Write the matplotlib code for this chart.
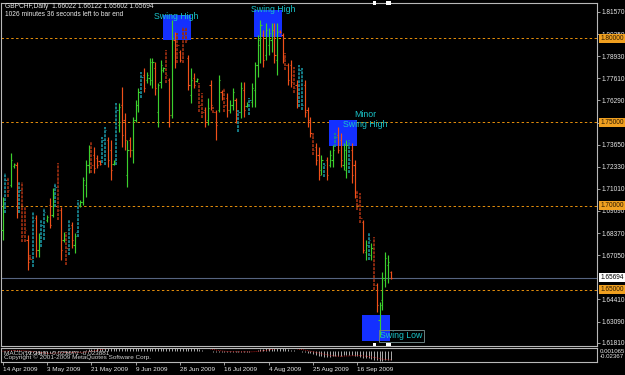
import numpy as np
import pandas as pd
import matplotlib
matplotlib.use("Agg")
import matplotlib.pyplot as plt
from matplotlib.patches import Rectangle

plt.rcParams['font.family'] = ['Liberation Sans', 'DejaVu Sans']

# GBPCHF daily bars
opens = [1.6856, 1.7005, 1.7154, 1.7124, 1.7237, 1.7243, 1.6975, 1.7094, 1.6945, 1.6796,
         1.6700, 1.6688, 1.6927, 1.6736, 1.6796, 1.6856, 1.6915, 1.7005, 1.6945, 1.7035,
         1.7154, 1.6975, 1.6796, 1.6826, 1.6748, 1.6885, 1.6766, 1.6844, 1.7005, 1.7023,
         1.7124, 1.7243, 1.7333, 1.7303, 1.7285, 1.7267, 1.7273, 1.7393, 1.7393, 1.7333,
         1.7249, 1.7273, 1.7482, 1.7602, 1.7512, 1.7184, 1.7393, 1.7333, 1.7512, 1.7602,
         1.7679, 1.7781, 1.7751, 1.7763, 1.7751, 1.7823, 1.7560, 1.7739, 1.7811, 1.7870,
         1.7751, 1.7542, 1.7990, 1.7900, 1.7918, 1.7900, 1.8050, 1.7882, 1.7662, 1.7763,
         1.7745, 1.7721, 1.7632, 1.7572, 1.7512, 1.7721, 1.7584, 1.7560, 1.7572, 1.7679,
         1.7662, 1.7644, 1.7572, 1.7602, 1.7632, 1.7524, 1.7560, 1.7692, 1.7596, 1.7602,
         1.7620, 1.7692, 1.7841, 1.7960, 1.8020, 1.7900, 1.7960, 1.7990, 1.8050, 1.7870,
         1.8044, 1.8020, 1.7882, 1.7841, 1.7841, 1.7781, 1.7721, 1.7632, 1.7799, 1.7721,
         1.7572, 1.7512, 1.7423, 1.7351, 1.7303, 1.7214, 1.7225, 1.7273, 1.7243, 1.7273,
         1.7363, 1.7423, 1.7393, 1.7243, 1.7214, 1.7333, 1.7333, 1.7243, 1.7082, 1.7035,
         1.6903, 1.6724, 1.6766, 1.6706, 1.6766, 1.6527, 1.6318, 1.6438, 1.6557, 1.6646,
         1.66022]
highs = [1.7053, 1.7196, 1.7172, 1.7315, 1.7255, 1.7261, 1.7142, 1.7142, 1.6993, 1.6826,
         1.6706, 1.6963, 1.6945, 1.6838, 1.6915, 1.6987, 1.6945, 1.7047, 1.7106, 1.7136,
         1.7255, 1.6993, 1.6844, 1.6844, 1.6915, 1.6903, 1.6838, 1.7035, 1.7035, 1.7172,
         1.7273, 1.7363, 1.7381, 1.7351, 1.7303, 1.7273, 1.7411, 1.7470, 1.7411, 1.7393,
         1.7273, 1.7614, 1.7614, 1.7709, 1.7554, 1.7393, 1.7411, 1.7530, 1.7632, 1.7704,
         1.7799, 1.7823, 1.7799, 1.7882, 1.7882, 1.7858, 1.7733, 1.7870, 1.7829, 1.7930,
         1.7763, 1.8109, 1.8038, 1.8032, 1.7930, 1.8068, 1.8068, 1.7900, 1.7823, 1.7793,
         1.7763, 1.7733, 1.7673, 1.7590, 1.7644, 1.7751, 1.7590, 1.7572, 1.7781, 1.7692,
         1.7704, 1.7673, 1.7632, 1.7704, 1.7644, 1.7572, 1.7739, 1.7739, 1.7620, 1.7644,
         1.7733, 1.7858, 1.8020, 1.8109, 1.8050, 1.8091, 1.8061, 1.8091, 1.8091, 1.8091,
         1.8050, 1.8032, 1.7912, 1.7852, 1.7870, 1.7829, 1.7751, 1.7841, 1.7823, 1.7751,
         1.7590, 1.7530, 1.7435, 1.7375, 1.7351, 1.7303, 1.7255, 1.7291, 1.7333, 1.7363,
         1.7435, 1.7470, 1.7435, 1.7375, 1.7393, 1.7393, 1.7375, 1.7273, 1.7094, 1.7076,
         1.6915, 1.6796, 1.6838, 1.6778, 1.6814, 1.6539, 1.6426, 1.6605, 1.6724, 1.6706,
         1.66122]
lows = [1.6796, 1.6957, 1.7053, 1.7112, 1.7225, 1.6927, 1.6957, 1.6784, 1.6784, 1.6617,
        1.6676, 1.6635, 1.6694, 1.6694, 1.6754, 1.6796, 1.6903, 1.6868, 1.6933, 1.6993,
        1.6915, 1.6676, 1.6784, 1.6646, 1.6706, 1.6748, 1.6718, 1.6814, 1.6993, 1.7005,
        1.7053, 1.7196, 1.7196, 1.7196, 1.7225, 1.7243, 1.7255, 1.7243, 1.7232, 1.7154,
        1.7243, 1.7243, 1.7441, 1.7351, 1.7333, 1.7112, 1.7291, 1.7255, 1.7500, 1.7560,
        1.7644, 1.7679, 1.7733, 1.7721, 1.7704, 1.7662, 1.7470, 1.7704, 1.7799, 1.7733,
        1.7470, 1.7524, 1.7823, 1.7852, 1.7858, 1.7852, 1.7972, 1.7692, 1.7614, 1.7704,
        1.7739, 1.7560, 1.7524, 1.7470, 1.7482, 1.7572, 1.7554, 1.7393, 1.7560, 1.7632,
        1.7560, 1.7530, 1.7554, 1.7572, 1.7494, 1.7441, 1.7524, 1.7530, 1.7590, 1.7542,
        1.7590, 1.7590, 1.7769, 1.7852, 1.7829, 1.7870, 1.7900, 1.7918, 1.7852, 1.7781,
        1.8032, 1.7852, 1.7811, 1.7721, 1.7709, 1.7673, 1.7584, 1.7590, 1.7572, 1.7530,
        1.7470, 1.7411, 1.7303, 1.7243, 1.7154, 1.7184, 1.7172, 1.7154, 1.7232, 1.7232,
        1.7351, 1.7315, 1.7232, 1.7214, 1.7166, 1.7196, 1.7136, 1.7047, 1.6975, 1.6897,
        1.6718, 1.6676, 1.6676, 1.6676, 1.6497, 1.6366, 1.6217, 1.6378, 1.6515, 1.6539,
        1.65602]
closes = [1.7035, 1.7154, 1.7094, 1.7273, 1.7249, 1.6975, 1.7094, 1.6826, 1.6856, 1.6665,
          1.6682, 1.6915, 1.6736, 1.6796, 1.6885, 1.6963, 1.6933, 1.6885, 1.7064, 1.7112,
          1.6975, 1.6736, 1.6826, 1.6748, 1.6868, 1.6796, 1.6820, 1.7005, 1.7023, 1.7154,
          1.7243, 1.7333, 1.7243, 1.7225, 1.7243, 1.7249, 1.7393, 1.7452, 1.7273, 1.7214,
          1.7267, 1.7572, 1.7590, 1.7423, 1.7393, 1.7333, 1.7333, 1.7512, 1.7602, 1.7679,
          1.7769, 1.7704, 1.7781, 1.7858, 1.7858, 1.7704, 1.7721, 1.7841, 1.7823, 1.7781,
          1.7542, 1.8002, 1.7870, 1.7960, 1.7870, 1.8020, 1.7990, 1.7721, 1.7751, 1.7721,
          1.7757, 1.7602, 1.7560, 1.7500, 1.7584, 1.7602, 1.7560, 1.7482, 1.7751, 1.7644,
          1.7602, 1.7572, 1.7602, 1.7679, 1.7524, 1.7560, 1.7704, 1.7572, 1.7608, 1.7632,
          1.7704, 1.7841, 1.7990, 1.8079, 1.7870, 1.8050, 1.8032, 1.8050, 1.7900, 1.8038,
          1.8038, 1.7882, 1.7841, 1.7751, 1.7739, 1.7704, 1.7632, 1.7811, 1.7602, 1.7560,
          1.7500, 1.7435, 1.7333, 1.7273, 1.7184, 1.7273, 1.7243, 1.7184, 1.7303, 1.7333,
          1.7411, 1.7333, 1.7273, 1.7333, 1.7363, 1.7273, 1.7184, 1.7082, 1.7005, 1.6927,
          1.6736, 1.6766, 1.6796, 1.6748, 1.6527, 1.6408, 1.6408, 1.6569, 1.6688, 1.6665,
          1.65694]
# g = up bar, r = down bar, t / d = the textured teal / dark red bars
kinds = ("gtdggrtddr" "dtrgttgrgt" "drgdtrgtgg" "ggdrrrttrr" "gtgrrgrggg"
         "trgggrgggd" "rgrdrddrgr" "gddrgrdrgr" "drggrtgrgt" "ggggrgggrg"
         "rrdrrdrttr" "rrdrrgtrgg" "trrggtrrdd" "rgtgdrggggr")

date_ticks = [0, 16, 32, 48, 64, 80, 96, 112, 128]
date_labels = ['14 Apr 2009', '3 May 2009', '21 May 2009', '9 Jun 2009', '28 Jun 2009',
               '16 Jul 2009', '4 Aug 2009', '25 Aug 2009', '16 Sep 2009']
price_ticks = [1.81570, 1.80250, 1.78930, 1.77610, 1.76290, 1.74970, 1.73650, 1.72330,
               1.71010, 1.69690, 1.68370, 1.67050, 1.64410, 1.63090, 1.61810]
levels = [1.80000, 1.75000, 1.70000, 1.65000]
last_price = 1.65694

# swing boxes drawn on the chart: bar range, price range, label and label anchor
box_from = [57.9, 90.7, 117.7, 129.6]
box_to = [68.0, 100.8, 127.8, 139.7]
box_top = [1.8139, 1.8169, 1.7512, 1.6348]
box_bottom = [1.7990, 1.8008, 1.7357, 1.6193]
box_labels = ['Swing High', 'Swing High', 'Minor\nSwing High', 'Swing Low']
label_bar = [62.5, 97.5, 130.7, 136.3]
label_price = [1.8133, 1.8169, 1.7516, 1.6223]

W, H = 625, 375
fig = plt.figure(figsize=(W / 100, H / 100), dpi=100, facecolor='black')


def px_box(l, t, r, b):
    return [l / W, 1 - b / H, (r - l) / W, (b - t) / H]


ax = fig.add_axes(px_box(1, 3, 597, 346))
axm = fig.add_axes(px_box(1, 348, 597, 362))
frame = '#b8b8b8'
for a in (ax, axm):
    a.set_facecolor('black')
    for s in a.spines.values():
        s.set_color(frame)
        s.set_linewidth(0.8)

n = len(closes)
x = np.arange(n)
xlim = (-0.6, 214.4)

# horizontal levels
for lv in levels:
    ax.axhline(lv, color='#e8900c', lw=0.7, ls=(0, (2.5, 2.5)), zorder=1)
ax.axhline(last_price, color='#566480', lw=0.8, zorder=1)

# swing boxes
for i in range(len(box_from)):
    ax.add_patch(Rectangle((box_from[i], box_bottom[i]), box_to[i] - box_from[i],
                           box_top[i] - box_bottom[i], facecolor='#1430ff',
                           edgecolor='none', zorder=2))

# OHLC bars
colors = {'g': '#3ccf2d', 'r': '#f0501a', 't': '#178592', 'd': '#962c10'}
for k, c in colors.items():
    sel = [i for i in range(n) if kinds[i] == k]
    xs = x[sel]
    o = np.array(opens)[sel]
    h = np.array(highs)[sel]
    lo = np.array(lows)[sel]
    cl = np.array(closes)[sel]
    if k in 'td':
        ls, lw = (0, (1.6, 0.6)), 1.3
    else:
        ls, lw = '-', 0.85
    ax.vlines(xs, lo, h, color=c, lw=lw, linestyles=[ls], zorder=3)
    ax.hlines(o, xs - 0.45, xs, color=c, lw=0.8, zorder=3)
    ax.hlines(cl, xs, xs + 0.45, color=c, lw=0.8, zorder=3)

# box labels
for i in range(len(box_labels)):
    if box_labels[i] == 'Swing Low':
        ax.text(label_bar[i], label_price[i], box_labels[i], color='#19c3c8',
                fontsize=6.3, ha='left', va='center', zorder=5,
                bbox=dict(boxstyle='square,pad=0.15', fc='none', ec='#6a8080', lw=0.7))
    else:
        ax.text(label_bar[i], label_price[i], box_labels[i], color='#19c3c8',
                fontsize=6.3, ha='center', va='center', zorder=5, linespacing=1.05)

ax.set_xlim(*xlim)
ax.set_ylim(1.61630, 1.82107)
ax.set_xticks([])
ax.yaxis.tick_right()
ax.set_yticks(price_ticks)
# the 1.74970 label sits fully under the orange 1.75000 tag in the screenshot
ax.set_yticklabels(['' if p == 1.74970 else '%.5f' % p for p in price_ticks])
ax.tick_params(axis='y', colors=frame, labelcolor='#e8e8e8', labelsize=4.7,
               length=2, width=0.6, pad=1.5)

for lv in levels:
    ax.annotate('%.5f' % lv, xy=(1, lv), xycoords=('axes fraction', 'data'),
                xytext=(2.3, 0), textcoords='offset points', ha='left', va='center',
                fontsize=4.7, color='#2a1800', zorder=6, annotation_clip=False,
                bbox=dict(boxstyle='square,pad=0.15', fc='#f0a020', ec='none'))
ax.annotate('%.5f' % last_price, xy=(1, last_price), xycoords=('axes fraction', 'data'),
            xytext=(2.3, 0), textcoords='offset points', ha='left', va='center',
            fontsize=4.7, color='black', zorder=6, annotation_clip=False,
            bbox=dict(boxstyle='square,pad=0.15', fc='white', ec='none'))

# MACD sub window
cs = pd.Series(closes)
macd = cs.ewm(span=12, adjust=False).mean() - cs.ewm(span=26, adjust=False).mean()
signal = macd.rolling(9, min_periods=1).mean()
axm.vlines(x, 0, macd, color='#c8c8c8', lw=0.6)
axm.plot(x, signal, color='#e02020', lw=0.6, ls=(0, (1, 1.5)))
lim = max(abs(macd.min()), abs(macd.max())) * 1.1
axm.set_ylim(-lim, lim * 0.3)
axm.set_xlim(*xlim)
axm.set_yticks([])
axm.set_xticks(date_ticks)
axm.set_xticklabels(date_labels)
axm.tick_params(axis='x', colors=frame, labelcolor='#e8e8e8', labelsize=4.6,
                length=2.5, width=0.6, pad=1)
for lab in axm.get_xticklabels():
    lab.set_ha('left')
axm.text(1.004, 0.74, '0.001065', transform=axm.transAxes, fontsize=4.4,
         color='#e8e8e8', va='center', ha='left')
axm.text(1.004, 0.42, '-0.02367', transform=axm.transAxes, fontsize=4.4,
         color='#e8e8e8', va='center', ha='left')

# header / footer texts
fig.text(5 / W, 1 - 7 / H, 'GBPCHF,Daily  1.66022 1.66122 1.65602 1.65694',
         fontsize=4.8, color='#e8e8e8', va='center')
fig.text(5 / W, 1 - 15 / H, '1026 minutes 36 seconds left to bar end',
         fontsize=4.8, color='#e8e8e8', va='center')
fig.text(4 / W, 1 - 353 / H, 'MACD(12,26,9) -0.023671 -0.023881',
         fontsize=4.6, color='#d0d0d0', va='center')
fig.text(4 / W, 1 - 357.5 / H, 'Copyright © 2001-2009 MetaQuotes Software Corp.',
         fontsize=4.6, color='#d0d0d0', va='center')

# small white markers at the chart shift
for (l, t, r, b) in [(372.5, 1.5, 375.5, 4.5), (386.5, 1.5, 391.5, 4.5),
                     (372.5, 343, 375.5, 346), (386.5, 343, 391.5, 346)]:
    fig.patches.append(Rectangle((l / W, 1 - b / H), (r - l) / W, (b - t) / H,
                                 transform=fig.transFigure, fc='white', ec='none'))

fig.savefig('out.png', dpi=100, facecolor='black')
